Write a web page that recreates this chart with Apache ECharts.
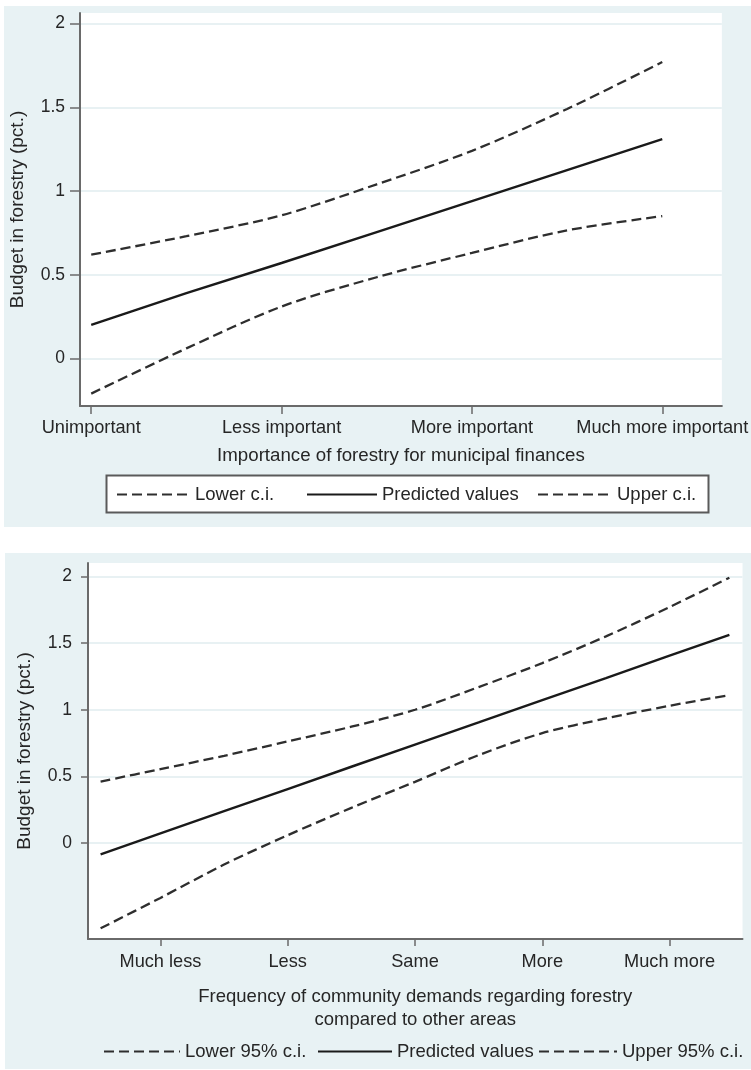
<!DOCTYPE html>
<html>
<head>
<meta charset="utf-8">
<script src="https://cdn.jsdelivr.net/npm/echarts@6/dist/echarts.min.js"></script>
<style>
  html, body { margin: 0; padding: 0; background: #ffffff; }
  #chart { width: 751px; height: 1070px; }
</style>
</head>
<body>
<div id="chart"></div>
<script>
// Panel A: budget share by importance of forestry for municipal finances
const importanceLabels = ['Unimportant', 'Less important', 'More important', 'Much more important'];
const importanceX = [1, 1.5, 2, 2.5, 3, 3.5, 4];
const importancePredicted = [0.20, 0.39, 0.57, 0.755, 0.94, 1.125, 1.31];
const importanceLower = [-0.21, 0.06, 0.31, 0.485, 0.63, 0.765, 0.85];
const importanceUpper = [0.62, 0.73, 0.855, 1.04, 1.24, 1.49, 1.77];

// Panel B: budget share by frequency of community demands
const demandLabels = ['Much less', 'Less', 'Same', 'More', 'Much more'];
const demandX = [0.53, 1, 1.5, 2, 2.5, 3, 3.5, 4, 4.5, 5, 5.47];
const demandPredicted = [-0.083, 0.073, 0.24, 0.406, 0.573, 0.739, 0.905, 1.072, 1.238, 1.405, 1.561];
const demandLower = [-0.638, -0.41, -0.16, 0.06, 0.265, 0.46, 0.66, 0.825, 0.935, 1.03, 1.11];
const demandUpper = [0.462, 0.555, 0.655, 0.763, 0.873, 1.0, 1.17, 1.35, 1.55, 1.77, 1.99];

const yTicks = [0, 0.5, 1, 1.5, 2];
const importanceTicks = [1, 2, 3, 4];
const demandTicks = [1, 2, 3, 4, 5];

const FONT = "'Liberation Sans', Arial, Helvetica, sans-serif";
const TEXT = '#262626';
const AXIS = '#6a6a6a';
const GRIDLINE = '#e8f1f3';
const PANEL_BG = '#e8f2f4';
const DASH = [10, 5];

function pairs(xs, ys) { return xs.map((x, i) => [x, ys[i]]); }

function lineSeries(name, xs, ys, idx, dashed) {
  return {
    name: name,
    type: 'line',
    xAxisIndex: idx,
    yAxisIndex: idx,
    data: pairs(xs, ys),
    symbol: 'none',
    smooth: dashed ? 0.3 : false,
    lineStyle: {
      color: dashed ? '#2e2e2e' : '#1a1a1a',
      width: dashed ? 2.3 : 2.4,
      type: dashed ? DASH : 'solid'
    },
    z: 5
  };
}

function legendItem(name, left, top, width) {
  return {
    data: [name],
    left: left,
    top: top,
    padding: 0,
    itemWidth: width,
    itemHeight: 14,
    itemGap: 0,
    selectedMode: false,
    itemStyle: { color: 'rgba(0,0,0,0)', borderWidth: 0 },
    lineStyle: { width: 2 },
    textStyle: { fontFamily: FONT, fontSize: 18.5, color: TEXT }
  };
}

function yAxisDef(idx, min, max, tickLen, margin, gap) {
  return {
    type: 'value',
    gridIndex: idx,
    min: min,
    max: max,
    name: 'Budget in forestry (pct.)',
    nameLocation: 'middle',
    nameRotate: 90,
    nameGap: gap,
    nameTextStyle: { fontFamily: FONT, fontSize: 19, color: TEXT },
    axisLine: { show: true, lineStyle: { color: AXIS, width: 2 } },
    axisTick: { show: true, length: tickLen, customValues: yTicks, lineStyle: { color: AXIS, width: 1.5 } },
    axisLabel: {
      customValues: yTicks,
      margin: margin,
      fontFamily: FONT, fontSize: 17.5, color: TEXT,
      formatter: v => String(v)
    },
    splitLine: { show: true, lineStyle: { color: GRIDLINE, width: 2 } }
  };
}

const option = {
  animation: false,
  backgroundColor: '#ffffff',
  graphic: [
    { type: 'rect', shape: { x: 4, y: 6, width: 747, height: 521 }, style: { fill: PANEL_BG }, z: -10, silent: true },
    { type: 'rect', shape: { x: 5, y: 553, width: 746, height: 516 }, style: { fill: PANEL_BG }, z: -10, silent: true },
    { type: 'rect', shape: { x: 106.5, y: 475.5, width: 602, height: 37 },
      style: { fill: '#ffffff', stroke: '#5a5a5a', lineWidth: 2 }, z: -5, silent: true }
  ],
  grid: [
    { left: 78, right: 20, top: 13, bottom: 664, show: true, backgroundColor: '#ffffff', borderWidth: 0 },
    { left: 88, right: 8.5, top: 563, bottom: 131, show: true, backgroundColor: '#ffffff', borderWidth: 0 }
  ],
  xAxis: [
    {
      type: 'value', gridIndex: 0, min: 0.941, max: 4.313,
      name: 'Importance of forestry for municipal finances',
      nameLocation: 'middle', nameGap: 40,
      nameTextStyle: { fontFamily: FONT, fontSize: 18.7, color: TEXT },
      axisLine: { show: true, onZero: false, lineStyle: { color: AXIS, width: 2 } },
      axisTick: { show: true, length: 8, customValues: importanceTicks, lineStyle: { color: AXIS, width: 1.5 } },
      axisLabel: {
        customValues: importanceTicks, margin: 13,
        fontFamily: FONT, fontSize: 18.2, color: TEXT,
        formatter: v => importanceLabels[Math.round(v) - 1]
      },
      splitLine: { show: false }
    },
    {
      type: 'value', gridIndex: 1, min: 0.431, max: 5.573,
      name: 'Frequency of community demands regarding forestry\ncompared to other areas',
      nameLocation: 'middle', nameGap: 46,
      nameTextStyle: { fontFamily: FONT, fontSize: 18.5, color: TEXT, lineHeight: 23 },
      axisLine: { show: true, onZero: false, lineStyle: { color: AXIS, width: 2 } },
      axisTick: { show: true, length: 7, customValues: demandTicks, lineStyle: { color: AXIS, width: 1.5 } },
      axisLabel: {
        customValues: demandTicks, margin: 14,
        fontFamily: FONT, fontSize: 18.2, color: TEXT,
        formatter: v => demandLabels[Math.round(v) - 1]
      },
      splitLine: { show: false }
    }
  ],
  yAxis: [
    yAxisDef(0, -0.284, 2.063, 10, 15, 53),
    yAxisDef(1, -0.718, 2.1, 7, 16, 54)
  ],
  legend: [
    legendItem('Lower c.i.', 116, 485, 73),
    legendItem('Predicted values', 306, 485, 70),
    legendItem('Upper c.i.', 537, 485, 74),
    legendItem('Lower 95% c.i.', 103, 1042, 76),
    legendItem('Predicted values ', 317, 1042, 74),
    legendItem('Upper 95% c.i.', 538, 1042, 78)
  ],
  series: [
    lineSeries('Lower c.i.', importanceX, importanceLower, 0, true),
    lineSeries('Predicted values', importanceX, importancePredicted, 0, false),
    lineSeries('Upper c.i.', importanceX, importanceUpper, 0, true),
    lineSeries('Lower 95% c.i.', demandX, demandLower, 1, true),
    lineSeries('Predicted values ', demandX, demandPredicted, 1, false),
    lineSeries('Upper 95% c.i.', demandX, demandUpper, 1, true)
  ]
};

const chart = echarts.init(document.getElementById('chart'), null, { renderer: 'canvas' });
chart.setOption(option);
</script>
</body>
</html>
